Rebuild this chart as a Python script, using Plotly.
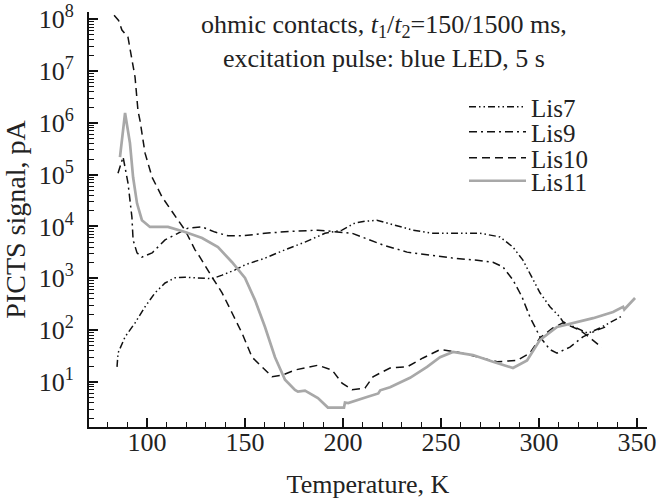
import plotly.graph_objects as go

# ---- data ----
T_lis7 = [84.7, 85.2, 88.8, 93.9, 99.0, 104.1, 109.2, 114.3, 119.4, 126.0, 133.2, 138.3, 144.9, 150.0,
          160.2, 170.4, 180.6, 190.8, 199.5, 206.1, 211.2, 217.3, 225.5, 235.7, 245.9, 258.2, 269.9,
          280.1, 286.7, 291.8, 296.4, 300.5, 305.6, 310.7, 312.2, 318.4, 325.0, 331.1, 337.2, 342.3]
V_lis7 = [19.5, 36, 74, 138, 282, 525, 813, 1020, 1050, 1020, 980, 1150, 1450, 1820,
          2450, 3550, 5000, 7400, 8500, 11700, 12600, 13200, 10700, 8500, 7400, 7400, 7400,
          6300, 4000, 2240, 1050, 525, 282, 178, 145, 115, 87, 110, 145, 186]

T_lis9 = [85.2, 87.8, 90.3, 92.3, 92.9, 94.9, 97.4, 102.6, 109.2, 115.8, 120.9, 128.1, 134.7, 141.3,
          148.5, 160.2, 174.0, 187.2, 195.9, 204.6, 220.4, 232.7, 244.4, 256.1, 268.4, 276.5, 281.6,
          286.7, 291.3, 295.4, 300.5, 305.6, 309.2, 315.8, 322.4, 329.6, 335.2]
V_lis9 = [107000, 219000, 69000, 15100, 5500, 3090, 2570, 3090, 5500, 7400, 9300, 9800, 7800, 6600,
          6600, 7400, 8100, 8500, 7800, 7400, 4400, 3200, 2800, 2450, 2240, 2040, 1660,
          930, 440, 178, 74, 42, 36, 47, 74, 100, 120]

T_lis10 = [83.2, 85.5, 87.2, 90.3, 93.9, 95.4, 96.4, 99.0, 102.6, 107.7, 113.3, 119.4, 124.5, 127.0,
           133.2, 138.3, 143.4, 148.5, 153.6, 156.6, 163.8, 168.9, 175.5, 187.2, 194.4, 199.5, 204.6,
           211.2, 215.3, 224.0, 232.7, 240.8, 249.5, 258.2, 269.9, 278.6, 288.8, 295.4, 300.5, 307.1,
           312.2, 320.9, 326.0, 332.1]
V_lis10 = [1.2e8, 9.5e7, 6.2e7, 4.5e7, 7.6e6, 1.7e6, 1.12e6, 2.6e5, 89000, 37000, 18200, 8500, 3550, 2570,
           1050, 525, 214, 87, 30, 23, 12.6, 13.5, 17, 21, 17, 9.5, 7.1,
           7.6, 12.6, 18.6, 19.5, 29, 42, 38, 29, 24.5, 26, 36, 71, 110,
           138, 100, 71, 46]

T_lis11 = [86.2, 88.8, 91.3, 92.9, 94.9, 97.4, 101.5, 110.7, 119.4, 128.1, 136.2, 143.4, 150.0, 155.1,
           160.2, 165.3, 170.4, 174.0, 175.5, 177.0, 180.6, 187.2, 192.3, 200.5, 201.0, 202.6, 205.0,
           207.7, 212.2, 218.0, 219.0, 224.0, 234.2, 242.9, 249.5, 256.1, 266.3, 276.5, 286.7, 293.9,
           300.5, 309.2, 317.3, 327.6, 337.8, 342.9, 343.5, 346.4, 349.0]
V_lis11 = [219000, 1.55e6, 407000, 89000, 28000, 13200, 9800, 9800, 7800, 6000, 4000, 2040, 1020, 380,
           115, 30, 11, 7.8, 7.0, 6.5, 6.8, 4.9, 3.2, 3.2, 4.0, 3.9, 4.2,
           4.5, 5.1, 6.0, 6.9, 7.9, 12, 19.5, 30, 38, 33, 24.5, 18.6, 26,
           65, 115, 138, 170, 224, 282, 250, 331, 417]

x_ticks = [100, 150, 200, 250, 300, 350]
y_exponents = [1, 2, 3, 4, 5, 6, 7, 8]
names = ["Lis7", "Lis9", "Lis10", "Lis11"]

y_tickvals = [10 ** k for k in y_exponents]
y_ticktext = ["10<sup>%d</sup>" % k for k in y_exponents]
y_minor = [m * 10 ** k for k in range(0, 8) for m in range(2, 10)]

FONT = "Liberation Serif"
TXT = "#222222"

# plot area in pixels (for placing paper-referenced items)
PL, PR, PT, PB = 89, 647, 12, 427
def px_x(p):
    return (p - PL) / (PR - PL)
def px_y(p):
    return (PB - p) / (PB - PT)

series = [
    (T_lis7, V_lis7, dict(color="#111111", width=1.5, dash="7px,3px,1.5px,3px,1.5px,3px")),
    (T_lis9, V_lis9, dict(color="#111111", width=1.5, dash="8px,4px,2px,4px")),
    (T_lis10, V_lis10, dict(color="#111111", width=1.5, dash="8px,5px")),
    (T_lis11, V_lis11, dict(color="#a8a8a8", width=2.7)),
]
legend_ids = ["legend", "legend2", "legend3", "legend4"]
legend_y_px = [107, 132, 158, 181]

fig = go.Figure()
for (xs, ys, ln), nm, lid in zip(series, names, legend_ids):
    fig.add_trace(go.Scatter(x=xs, y=ys, mode="lines", name=nm, line=ln, legend=lid))

leg_common = dict(font=dict(family=FONT, size=25, color=TXT), bgcolor="rgba(0,0,0,0)",
                  itemwidth=57, xanchor="left", yanchor="middle", borderwidth=0)
legend_layout = {}
for lid, ypx in zip(legend_ids, legend_y_px):
    legend_layout[lid] = dict(x=px_x(464), y=px_y(ypx), **leg_common)

fig.update_layout(
    width=659, height=499,
    margin=dict(l=PL, r=659 - PR, t=PT, b=499 - PB, autoexpand=False),
    paper_bgcolor="white", plot_bgcolor="white",
    font=dict(family=FONT, color=TXT, size=22),
    showlegend=True,
    **legend_layout,
    xaxis=dict(
        range=[70.4, 355.1], tickmode="array", tickvals=x_ticks, automargin=False,
        ticks="inside", ticklen=9, tickwidth=1.5, tickcolor="#111",
        showline=True, linecolor="#111", linewidth=2, mirror=False,
        showgrid=False, zeroline=False,
        tickfont=dict(family=FONT, size=26, color=TXT), ticklabelstandoff=-9,
        minor=dict(ticks="inside", ticklen=5, tickwidth=1.2, tickcolor="#111", dtick=10, tick0=0, showgrid=False),
        title=dict(text="Temperature, K", font=dict(family=FONT, size=26, color=TXT), standoff=35),
    ),
    yaxis=dict(
        type="log", range=[0.13, 8.14], tickmode="array", tickvals=y_tickvals, ticktext=y_ticktext,
        automargin=False,
        ticks="inside", ticklen=9, tickwidth=1.5, tickcolor="#111",
        showline=True, linecolor="#111", linewidth=2, mirror=False,
        showgrid=False, zeroline=False,
        tickfont=dict(family=FONT, size=26, color=TXT), ticklabelstandoff=8,
        minor=dict(tickmode="array", tickvals=y_minor, ticks="inside", ticklen=5, tickwidth=1.2,
                   tickcolor="#111", showgrid=False),
        title=dict(text="PICTS signal, pA", font=dict(family=FONT, size=28, color=TXT), standoff=10),
    ),
    annotations=[
        dict(xref="paper", yref="paper", x=px_x(384), y=px_y(41), xanchor="center", yanchor="middle",
             text="ohmic contacts, <i>t</i><sub>1</sub>/<i>t</i><sub>2</sub>=150/1500 ms,<br>"
                  "excitation pulse: blue LED, 5 s",
             showarrow=False, align="center", font=dict(family=FONT, size=26, color=TXT)),
    ],
)

fig.write_html("out.html")
